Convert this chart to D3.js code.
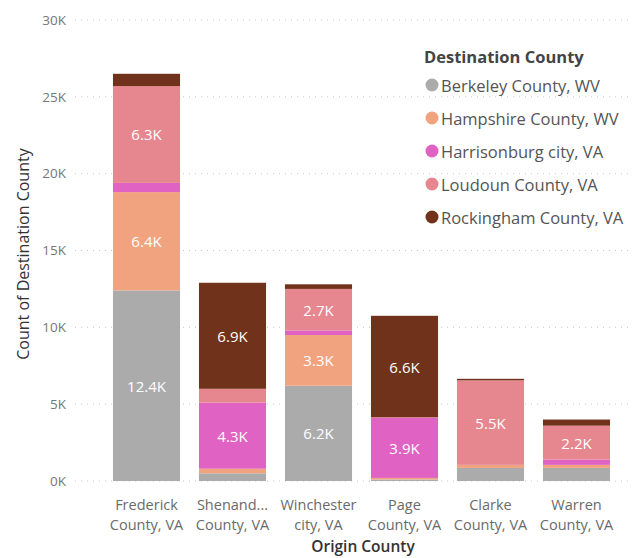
<!DOCTYPE html>
<html><head><meta charset="utf-8">
<script src="https://cdn.jsdelivr.net/npm/d3@7"></script>
<style>
body{margin:0;background:#fff;}
text{font-family:"Segoe UI","Open Sans","Noto Sans",sans-serif;}
</style></head>
<body><svg id="c" width="638" height="558"></svg>
<script>
const categories = ["Frederick County, VA","Shenandoah County, VA","Winchester city, VA","Page County, VA","Clarke County, VA","Warren County, VA"];
const categoryLines = [["Frederick","County, VA"],["Shenand...","County, VA"],["Winchester","city, VA"],["Page","County, VA"],["Clarke","County, VA"],["Warren","County, VA"]];
const seriesNames = ["Berkeley County, WV","Hampshire County, WV","Harrisonburg city, VA","Loudoun County, VA","Rockingham County, VA"];
const berkeley     = [12400, 500, 6200, 100, 850, 850];
const hampshire    = [6400, 300, 3300, 100, 200, 200];
const harrisonburg = [600, 4300, 300, 3900, 0, 350];
const loudoun      = [6300, 900, 2700, 50, 5500, 2200];
const rockingham   = [800, 6900, 300, 6600, 100, 400];
const seriesColors = ["#ABABAB","#F1A37F","#E063C3","#E6868F","#70321B"];
const yTicks = [0,5000,10000,15000,20000,25000,30000];

const seriesValues = [berkeley, hampshire, harrisonburg, loudoun, rockingham];
const rows = categories.map((c,i)=>{const r={cat:c}; seriesNames.forEach((s,j)=>r[s]=seriesValues[j][i]); return r;});
const stacked = d3.stack().keys(seriesNames)(rows);

const svg = d3.select("#c");
const y = d3.scaleLinear().domain([0,30000]).range([481,20]);
const x = d3.scaleBand().domain(categories).range([103.5,619.5]).paddingInner(0.22).paddingOuter(0.11);
const color = d3.scaleOrdinal().domain(seriesNames).range(seriesColors);

// gridlines
svg.append("g").selectAll("line").data(yTicks).join("line")
  .attr("x1",75).attr("x2",632).attr("y1",d=>y(d)).attr("y2",d=>y(d))
  .attr("stroke","#c8c8c8").attr("stroke-width",1).attr("stroke-dasharray","1,5");

// y axis
const yAxis = d3.axisLeft(y).tickValues(yTicks).tickSize(0).tickPadding(0)
  .tickFormat(d=> d===0 ? "0K" : (d/1000)+"K");
const yg = svg.append("g").attr("transform","translate(66,0)").call(yAxis);
yg.select(".domain").remove();
yg.selectAll("text").attr("fill","#777").style("font-size","13.5px").style("font-family","'Segoe UI','Open Sans',sans-serif");

// bars
svg.append("g").selectAll("g").data(stacked).join("g").attr("fill",d=>color(d.key))
  .selectAll("rect").data(d=>d).join("rect")
  .attr("x",d=>x(d.data.cat)).attr("width",x.bandwidth())
  .attr("y",d=>y(d[1])).attr("height",d=>Math.max(0,y(d[0])-y(d[1])));

// data labels
const lab = svg.append("g");
stacked.forEach(s=>{
  s.forEach(d=>{
    const v = d[1]-d[0];
    if (v >= 2000) {
      lab.append("text").attr("x",x(d.data.cat)+x.bandwidth()/2).attr("y",(y(d[0])+y(d[1]))/2)
        .attr("text-anchor","middle").attr("dominant-baseline","central")
        .attr("fill","#fff").style("font-size","15px").text((v/1000).toFixed(1)+"K");
    }
  });
});

// x axis
const xAxis = d3.axisBottom(x).tickSize(0).tickFormat("");
const xg = svg.append("g").attr("transform","translate(0,481)").call(xAxis);
xg.select(".domain").remove();
categories.forEach((c,i)=>{
  const t = svg.append("text").attr("x",x(c)+x.bandwidth()/2).attr("y",510)
    .attr("text-anchor","middle").attr("fill","#6a6a6a").style("font-size","14.5px");
  categoryLines[i].forEach((ln,k)=>t.append("tspan").attr("x",x(c)+x.bandwidth()/2).attr("dy",k===0?0:20).text(ln));
});

// axis titles
svg.append("text").attr("x",363).attr("y",552).attr("text-anchor","middle")
  .attr("fill","#333").style("font-size","15.5px").style("font-weight","600").text("Origin County");
svg.append("text").attr("transform","translate(29,254) rotate(-90)").attr("text-anchor","middle")
  .attr("fill","#333").style("font-size","16px").style("font-weight","500").text("Count of Destination County");

// legend
const lg = svg.append("g");
lg.append("text").attr("x",424).attr("y",63).attr("fill","#444").style("font-size","16.5px").style("font-weight","700").text("Destination County");
seriesNames.forEach((s,i)=>{
  const yy = 85 + i*33;
  lg.append("circle").attr("cx",432).attr("cy",yy).attr("r",6.5).attr("fill",color(s));
  lg.append("text").attr("x",441).attr("y",yy).attr("dominant-baseline","central")
    .attr("fill","#555").style("font-size","16.5px").text(s);
});
</script></body></html>
